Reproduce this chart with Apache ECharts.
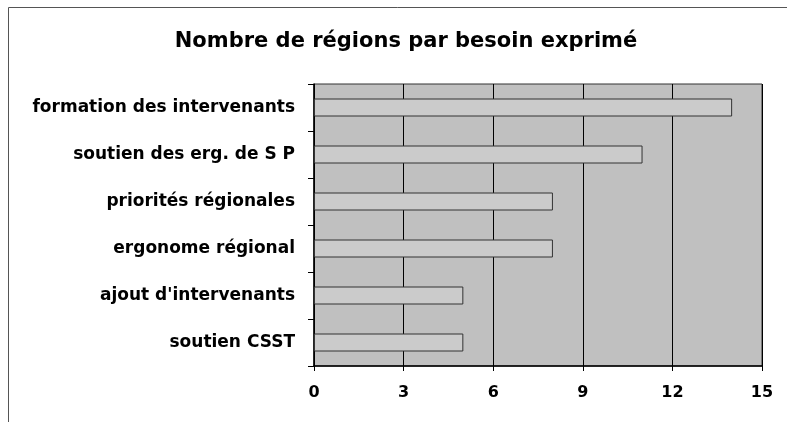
<!DOCTYPE html>
<html><head><meta charset="utf-8">
<script src="https://cdn.jsdelivr.net/npm/echarts@6/dist/echarts.min.js"></script>
<style>html,body{margin:0;padding:0;background:#fff}#c{width:787px;height:422px}</style>
</head><body><div id="c"></div>
<script>
var categories = ["formation des intervenants","soutien des erg. de S P","priorités régionales","ergonome régional","ajout d'intervenants","soutien CSST"];
var values = [14, 11, 8, 8, 5, 5];
var xTicks = [0, 3, 6, 9, 12, 15];
var titleText = "Nombre de régions par besoin exprimé";

var chart = echarts.init(document.getElementById('c'), null, {renderer:'canvas'});
var font = '"DejaVu Sans", sans-serif';
chart.setOption({
  animation:false,
  backgroundColor:'#ffffff',
  title:{text:titleText,left:401,textAlign:'center',top:26,textStyle:{fontFamily:font,fontWeight:'bold',fontSize:21,color:'#000'}},
  graphic:[{type:'polyline',shape:{points:[[8.5,422],[8.5,7.5],[787,7.5]]},style:{stroke:'#555',lineWidth:1,fill:null},silent:true}],
  grid:{left:314,right:25,top:84,bottom:56,show:true,backgroundColor:'#c0c0c0',borderColor:'#333',borderWidth:1},
  xAxis:{type:'value',min:xTicks[0],max:xTicks[xTicks.length-1],interval:3,
    axisLine:{show:true,lineStyle:{color:'#000',width:1.5}},
    axisTick:{show:true,length:5,lineStyle:{color:'#000'}},
    axisLabel:{fontFamily:font,fontWeight:'bold',fontSize:16,color:'#000',margin:19},
    splitLine:{show:true,lineStyle:{color:'#000',width:1}}},
  yAxis:{type:'category',data:categories,inverse:true,
    axisLine:{show:true,lineStyle:{color:'#000',width:1.5}},
    axisTick:{show:true,length:6,lineStyle:{color:'#000'}},
    axisLabel:{fontFamily:font,fontWeight:'bold',fontSize:17,color:'#000',margin:19},
    splitLine:{show:false}},
  series:[{type:'bar',data:values,barWidth:18,
    itemStyle:{color:'#cbcbcb',borderColor:'#333',borderWidth:1}}]
});
</script></body></html>
